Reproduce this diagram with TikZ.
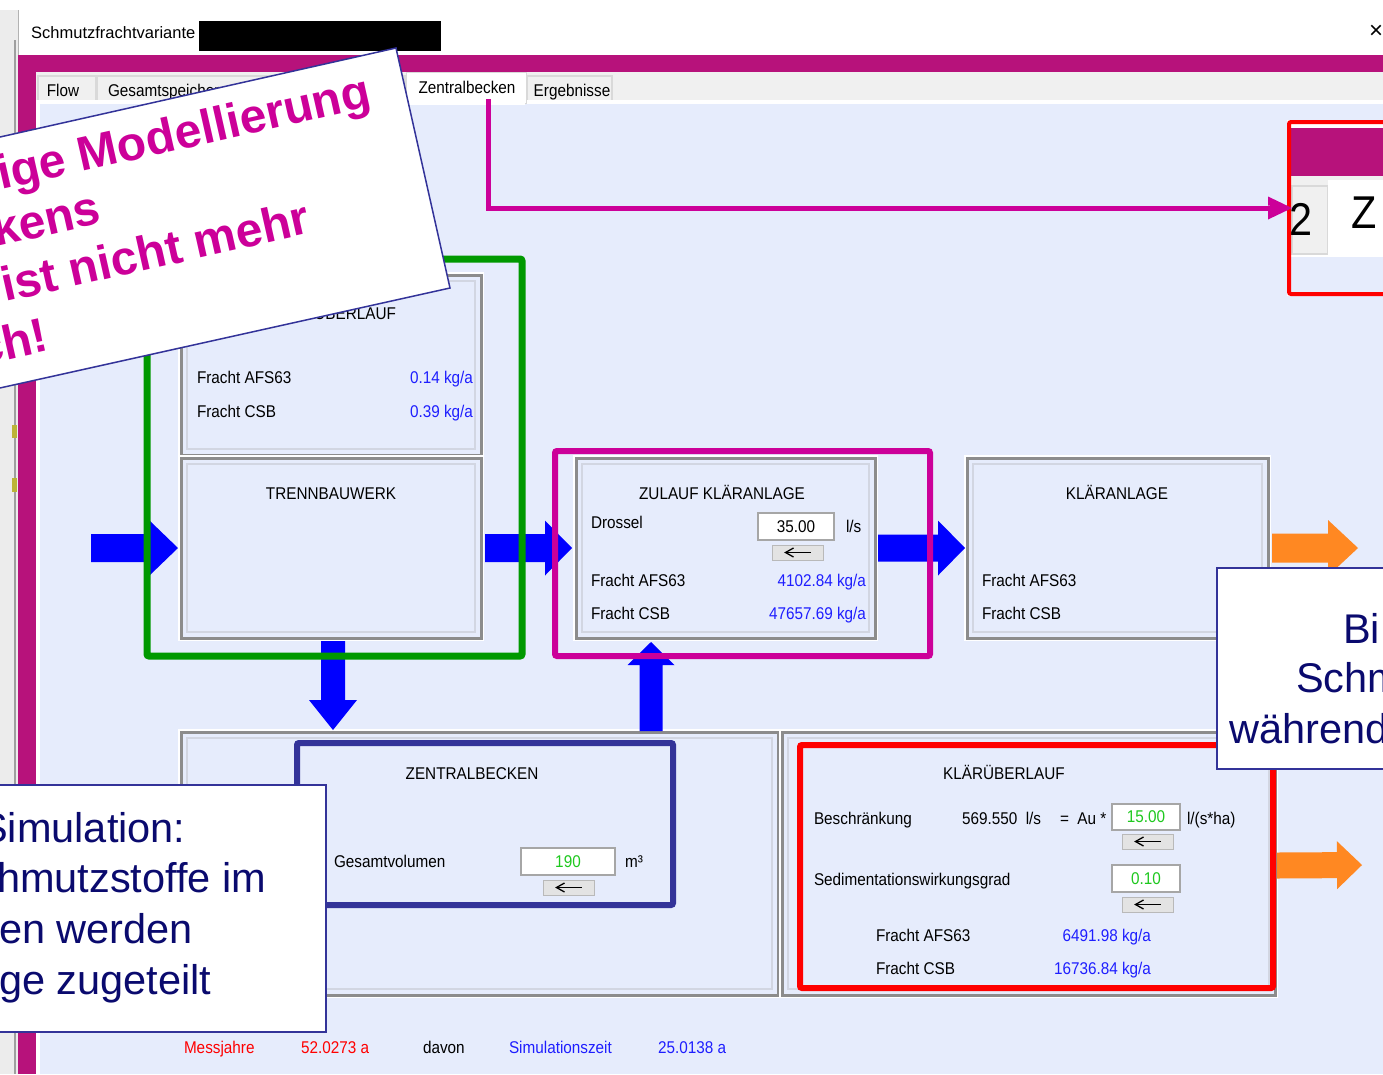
\documentclass[tikz,border=0pt]{standalone}
\usepackage{fontspec}
\setmainfont{Liberation Sans}
\newfontfamily\uifont{Liberation Sans}[FakeStretch=0.9]
\usetikzlibrary{calc}
\definecolor{lav}{RGB}{230,236,252}
\definecolor{winmag}{RGB}{183,18,123}
\definecolor{annmag}{RGB}{204,0,153}
\definecolor{grn}{RGB}{0,153,0}
\definecolor{navybox}{RGB}{51,51,153}
\definecolor{navytext}{RGB}{10,10,110}
\definecolor{arrblue}{RGB}{0,0,255}
\definecolor{orng}{RGB}{255,136,34}
\definecolor{valblue}{RGB}{30,30,255}
\definecolor{valgreen}{RGB}{30,200,30}
\definecolor{pgray}{RGB}{140,140,140}
\definecolor{pinner}{RGB}{210,214,226}
\definecolor{tabgray}{RGB}{240,240,240}
\definecolor{tabedge}{RGB}{217,217,217}
\definecolor{msred}{RGB}{255,0,0}
\definecolor{bggray}{RGB}{236,236,236}
\newcommand\blockarrow[6]{%
  \coordinate (ba-h) at ($(#3)!#6!(#2)$);
  \fill[#1] ($(#2)!#4!90:(#3)$) -- ($(ba-h)!#4!90:(#3)$) -- ($(ba-h)!#5!90:(#3)$) -- (#3)
    -- ($(ba-h)!#5!-90:(#3)$) -- ($(ba-h)!#4!-90:(#3)$) -- ($(#2)!#4!-90:(#3)$) -- cycle;}
\tikzset{
  ui/.style={font=\uifont\fontsize{17}{20}\selectfont, inner sep=0pt, outer sep=0pt},
  lab/.style={ui, anchor=base west},
  vallab/.style={ui, anchor=base east, text=valblue},
  ttl/.style={ui, anchor=base},
  panelbox/.style={draw=pgray, line width=3pt, fill=lav, preaction={draw=white, line width=6pt},
    inner sep=0pt, outer sep=0pt, anchor=north west,
    path picture={\draw[pinner, line width=1.2pt]
      ([shift={(6pt,-6pt)}]path picture bounding box.north west) rectangle
      ([shift={(-6pt,6pt)}]path picture bounding box.south east);}},
  framebox/.style={draw, line width=6pt, rounded corners=2pt, inner sep=0pt, outer sep=0pt, anchor=north west},
  inbox/.style={ui, draw=gray!70, line width=1.2pt, fill=white, anchor=north west},
  tabbox/.style={draw=tabedge, fill=tabgray, line width=1.2pt},
  callout/.style={draw=navybox, line width=1.8pt, fill=white},
  calltext/.style={font=\fontsize{41.5}{50}\selectfont, text=navytext, anchor=base west, inner sep=0pt},
  bubtext/.style={font=\fontsize{48}{55}\selectfont\bfseries, text=annmag, anchor=base west, inner sep=0pt, rotate=12.7},
  pics/btn/.style={code={
    \draw[fill=gray!22, draw=gray!55, line width=1pt] (-25.5,-7.5) rectangle (25.5,7.5);
    \draw[line width=1.6pt] (13,0) -- (-11,0);
    \draw[line width=1.3pt] (-4,-4.5) -- (-12,0) -- (-4,4.5);}}
}
\begin{document}
\begin{tikzpicture}[x=1pt,y=-1pt]
\useasboundingbox (0,0) rectangle (1383,1074);
\clip (0,0) rectangle (1383,1074);
% backdrop window
\fill[bggray] (0,0) rectangle (1383,1074);
\fill[white] (0,0) rectangle (1383,10);
\draw[gray!75, line width=1.5pt] (15,40) -- (15,1074);
\fill[yellow!70!black] (12,425) rectangle (17,438);
\fill[yellow!70!black] (12,478) rectangle (17,492);
% title bar
\fill[white] (18,10) rectangle (1383,55);
\draw[gray!60, line width=1pt] (18,10) -- (18,55);
\node[font=\fontsize{16.5}{20}\selectfont, anchor=base west, inner sep=0pt] (title) at (31,38) {Schmutzfrachtvariante};
\fill[black] (199,21) rectangle (441,51);
\node[font=\fontsize{24}{24}\selectfont, anchor=west, inner sep=0pt] (close) at (1369,32) {×};
% magenta window frame
\fill[winmag] (18,55) rectangle (1383,72);
\fill[winmag] (18,55) rectangle (36,1074);
% tab row
\fill[tabgray] (36,72) rectangle (1383,102);
\draw[tabbox] (38,76) rectangle (96,102);
\draw[tabbox] (97,76) rectangle (405,102);
\draw[tabbox] (527,76) rectangle (612,102);
\node[ui, anchor=base] (tabflow) at (63,96) {Flow};
\node[ui, anchor=base west] (tabges) at (108,96) {Gesamtspeicher};
\node[ui, anchor=base] (taberg) at (572,96) {Ergebnisse};
% content area
\fill[white] (36,100) rectangle (1383,1074);
\fill[lav] (40,104) rectangle (1383,1074);
\node[draw=tabedge, fill=white, line width=1.2pt, minimum width=120pt, minimum height=31pt, anchor=north west, inner sep=0pt] (tabz) at (406,72) {};
\fill[white] (407,100) rectangle (525,105);
\node[ui, anchor=base] (tabztxt) at (467,93) {Zentralbecken};
% panels
\node[panelbox, minimum width=300pt, minimum height=180pt] (p1) at (181,275) {};
\node[panelbox, minimum width=300pt, minimum height=180pt] (p2) at (181,458) {};
\node[panelbox, minimum width=299pt, minimum height=180pt] (zul) at (576,458) {};
\node[panelbox, minimum width=301pt, minimum height=180pt] (kla) at (967,458) {};
\node[panelbox, minimum width=597pt, minimum height=263pt] (bl) at (181,732) {};
\node[panelbox, minimum width=493pt, minimum height=263pt] (br) at (782,732) {};
% panel 1 texts
\node[ui, anchor=base east] (p1t) at (396,319) {ÜBERLAUF};
\node[lab] (p1a) at (197,383) {Fracht AFS63};
\node[vallab] (p1av) at (473,383) {0.14 kg/a};
\node[lab] (p1c) at (197,417) {Fracht CSB};
\node[vallab] (p1cv) at (473,417) {0.39 kg/a};
% panel 2
\node[ttl] (p2t) at (331,499) {TRENNBAUWERK};
% Zulauf
\node[ttl] (zult) at (722,499) {ZULAUF KLÄRANLAGE};
\node[lab] (dros) at (591,528) {Drossel};
\node[inbox, minimum width=76pt, minimum height=27pt] (drin) at (758,513) {35.00};
\node[lab] (drunit) at (846,532) {l/s};
\pic at (797.5,552.5) {btn};
\node[lab] (zula) at (591,586) {Fracht AFS63};
\node[vallab] (zulav) at (866,586) {4102.84 kg/a};
\node[lab] (zulc) at (591,619) {Fracht CSB};
\node[vallab] (zulcv) at (866,619) {47657.69 kg/a};
% Kläranlage
\node[ttl] (klat) at (1117,499) {KLÄRANLAGE};
\node[lab] (klaa) at (982,586) {Fracht AFS63};
\node[lab] (klac) at (982,619) {Fracht CSB};
% Zentralbecken
\node[ttl] (zbt) at (472,779) {ZENTRALBECKEN};
\node[lab] (zbv) at (334,867) {Gesamtvolumen};
\node[inbox, minimum width=94pt, minimum height=27pt, text=valgreen] (zbin) at (521,848) {190};
\node[lab] (zbunit) at (625,867) {m³};
\pic at (568.5,887.5) {btn};
% Klärüberlauf
\node[ttl] (kut) at (1004,779) {KLÄRÜBERLAUF};
\node[lab] (kub) at (814,824) {Beschränkung};
\node[lab] (kubv) at (962,824) {569.550\enspace l/s};
\node[lab] (kueq) at (1060,824) {=\enspace Au *};
\node[inbox, minimum width=68pt, minimum height=26pt, text=valgreen] (kuin1) at (1112,804) {15.00};
\node[lab] (kuunit) at (1187,824) {l/(s*ha)};
\pic at (1147.5,841.5) {btn};
\node[lab] (kus) at (814,885) {Sedimentationswirkungsgrad};
\node[inbox, minimum width=68pt, minimum height=27pt, text=valgreen] (kuin2) at (1112,865) {0.10};
\pic at (1147.5,904.5) {btn};
\node[lab] (kua) at (876,941) {Fracht AFS63};
\node[vallab] (kuav) at (1151,941) {6491.98 kg/a};
\node[lab] (kuc) at (876,974) {Fracht CSB};
\node[vallab] (kucv) at (1151,974) {16736.84 kg/a};
% bottom line
\node[lab, text=msred] (mj) at (184,1053) {Messjahre};
\node[lab, text=msred] (mjv) at (301,1053) {52.0273 a};
\node[lab] (davon) at (423,1053) {davon};
\node[lab, text=valblue] (sz) at (509,1053) {Simulationszeit};
\node[lab, text=valblue] (szv) at (658,1053) {25.0138 a};
% block arrows
\coordinate (in0) at (91,548);
\coordinate (a1t) at ($(p2.west)+(-3,0)$);
\coordinate (a2s) at ($(p2.east)+(4,0)$);
\coordinate (a2t) at ($(zul.west)+(-4,0)$);
\coordinate (a3s) at ($(zul.east)+(3,0)$);
\coordinate (a3t) at ($(kla.west)+(-2,0)$);
\coordinate (a4s) at ($(kla.east)+(4,0)$);
\coordinate (a4t) at (1358,548);
\coordinate (a5s) at ($(p2.south)+(2,3)$);
\coordinate (a5t) at ($(p2.south |- bl.north)+(2,-2)$);
\coordinate (a6s) at (651,731);
\coordinate (a6t) at ($(a6s |- zul.south)+(0,4)$);
% frames (named before arrows that use them)
\blockarrow{arrblue}{in0}{a1t}{14pt}{27pt}{28pt}
\blockarrow{arrblue}{a2s}{a2t}{14pt}{27.5pt}{27pt}
\blockarrow{arrblue}{a3s}{a3t}{13.5pt}{27.5pt}{27pt}
\blockarrow{orng}{a4s}{a4t}{14.5pt}{28pt}{30pt}
\blockarrow{arrblue}{a5s}{a5t}{12pt}{24pt}{30pt}
\blockarrow{arrblue}{a6s}{a6t}{11.5pt}{23.5pt}{23pt}
\node[framebox, draw=grn, line width=7pt, minimum width=375pt, minimum height=397pt] (gbox) at (147,259) {};
\node[framebox, draw=annmag, minimum width=375pt, minimum height=205pt] (mbox) at (555,451) {};
\node[framebox, draw=navybox, minimum width=376pt, minimum height=162pt] (nbox) at (297,743) {};
\node[framebox, draw=red, minimum width=473pt, minimum height=243pt] (rbox) at (800,745) {};
\coordinate (a7s) at ($(rbox.east)+(4,-1)$);
\coordinate (a7t) at (1362,865);
\blockarrow{orng}{a7s}{a7t}{13pt}{24pt}{25pt}
% mini picture (top right)
\fill[white] (1287,120) rectangle (1400,296);
\fill[winmag] (1291,128) rectangle (1400,176);
\fill[tabgray] (1291,176) rectangle (1400,185);
\node[draw=tabedge, fill=tabgray, line width=2pt, minimum width=36pt, minimum height=68pt, anchor=north west, inner sep=0pt] (mtab) at (1291,185) {};
\fill[white] (1328,180) rectangle (1400,257);
\fill[lav] (1291,257) rectangle (1400,292);
\node[font=\uifont\fontsize{46}{50}\selectfont, anchor=base west, inner sep=0pt] (m2) at (1289.5,235) {2};
\node[font=\uifont\fontsize{46}{50}\selectfont, anchor=base west, inner sep=0pt] (mz) at (1351,228) {Z};
\draw[red, line width=4pt, rounded corners=2pt] (1289,122) rectangle (1410,294);
% magenta connector
\coordinate (ms) at ($(tabz.south)+(22,-5)$);
\coordinate (mhb) at (1270,208);
\coordinate (mtip) at (1292,208);
\draw[annmag, line width=5pt] (ms) |- (mhb);
\blockarrow{annmag}{mhb}{mtip}{2.5pt}{11.5pt}{24pt}
% callouts
\draw[callout] (-10,785) rectangle (326,1032);
\node[calltext] (l1) at (-20,842) {Simulation:};
\node[calltext] (l2) at (-3,892) {hmutzstoffe im};
\node[calltext] (l3) at (-1,943) {en werden};
\node[calltext] (l4) at (-1,994) {ge zugeteilt};
\draw[callout] (1217,568) rectangle (1410,769);
\node[calltext] (r1) at (1343,643) {Bi};
\node[calltext] (r2) at (1296,692) {Schm};
\node[calltext] (r3) at (1229,743) {während};
% rotated note
\draw[draw=navybox, line width=1.5pt, fill=white] (-60,150.5) -- (396,48) -- (450,288) -- (-60,401.3) -- cycle;
\node[bubtext] (b1) at (1,190) {ige Modellierung};
\node[bubtext] (b2) at (-4,247) {kens};
\node[bubtext] (b3) at (5,302) {ist nicht mehr};
\node[bubtext] (b4) at (-20,366) {ch!};
\end{tikzpicture}
\end{document}
